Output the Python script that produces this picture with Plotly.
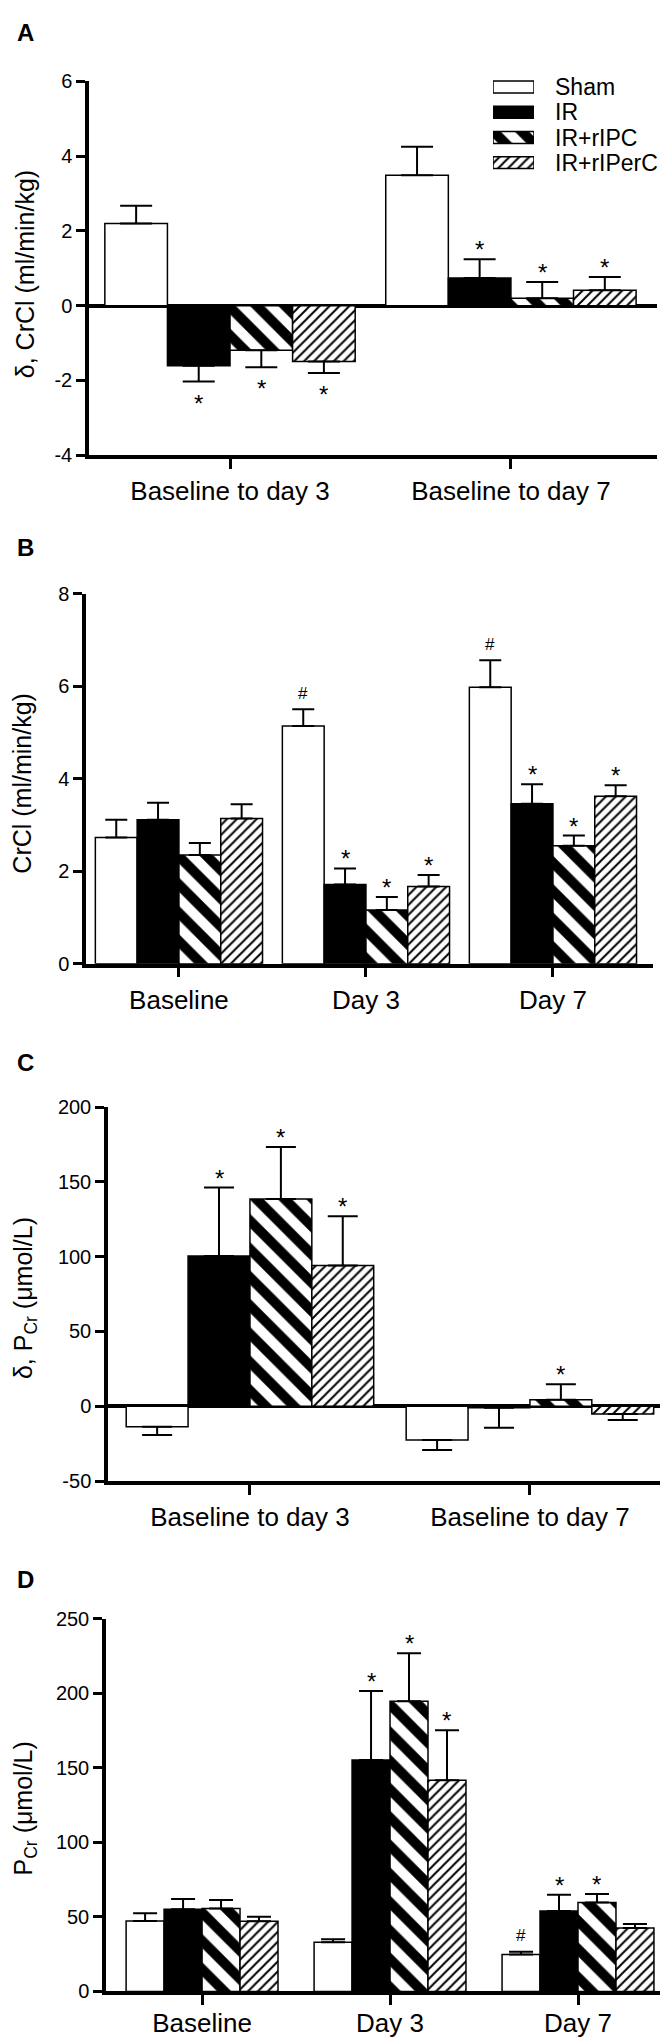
import plotly.graph_objects as go

FONT = "Liberation Sans, Arial, Helvetica, sans-serif"
W, H = 668, 2038

groups = ["Sham", "IR", "IR+rIPC", "IR+rIPerC"]

# Panel A: change in creatinine clearance
a_categories = ["Baseline to day 3", "Baseline to day 7"]
a_sham = [2.2, 3.49]
a_sham_err = [0.47, 0.76]
a_ir = [-1.61, 0.74]
a_ir_err = [0.42, 0.50]
a_ripc = [-1.19, 0.20]
a_ripc_err = [0.46, 0.43]
a_riperc = [-1.49, 0.41]
a_riperc_err = [0.31, 0.36]
a_sham_marks = ["", ""]
a_ir_marks = ["*", "*"]
a_ripc_marks = ["*", "*"]
a_riperc_marks = ["*", "*"]

# Panel B: creatinine clearance
b_categories = ["Baseline", "Day 3", "Day 7"]
b_sham = [2.73, 5.14, 5.98]
b_sham_err = [0.38, 0.36, 0.58]
b_ir = [3.11, 1.71, 3.46]
b_ir_err = [0.37, 0.35, 0.42]
b_ripc = [2.35, 1.16, 2.55]
b_ripc_err = [0.26, 0.28, 0.22]
b_riperc = [3.14, 1.67, 3.62]
b_riperc_err = [0.31, 0.25, 0.24]
b_sham_marks = ["", "#", "#"]
b_ir_marks = ["", "*", "*"]
b_ripc_marks = ["", "*", "*"]
b_riperc_marks = ["", "*", "*"]

# Panel C: change in plasma creatinine
c_categories = ["Baseline to day 3", "Baseline to day 7"]
c_sham = [-13.7, -22.5]
c_sham_err = [5.5, 6.7]
c_ir = [100.5, -1.0]
c_ir_err = [45.7, 13.4]
c_ripc = [138.5, 4.4]
c_ripc_err = [34.9, 10.4]
c_riperc = [94.1, -5.1]
c_riperc_err = [32.9, 4.0]
c_sham_marks = ["", ""]
c_ir_marks = ["*", ""]
c_ripc_marks = ["*", "*"]
c_riperc_marks = ["*", ""]

# Panel D: plasma creatinine
d_categories = ["Baseline", "Day 3", "Day 7"]
d_sham = [47.2, 33.0, 24.8]
d_sham_err = [5.3, 2.0, 1.8]
d_ir = [55.2, 155.1, 53.9]
d_ir_err = [6.8, 46.4, 11.0]
d_ripc = [55.6, 194.6, 59.6]
d_ripc_err = [5.8, 32.1, 5.8]
d_riperc = [47.0, 141.6, 42.6]
d_riperc_err = [3.1, 33.5, 2.6]
d_sham_marks = ["", "", "#"]
d_ir_marks = ["", "*", "*"]
d_ripc_marks = ["", "*", "*"]
d_riperc_marks = ["", "*", ""]


def px(x):
    return x / W


def py(y):
    return 1 - y / H


def group_marker(name):
    m = dict(color="white", line=dict(color="black", width=1.5))
    if name == "IR":
        m["color"] = "black"
    elif name == "IR+rIPC":
        m["pattern"] = dict(shape="\\", size=20, solidity=0.5, fgcolor="black",
                            bgcolor="white", fgopacity=1, fillmode="replace")
    elif name == "IR+rIPerC":
        m["pattern"] = dict(shape="/", size=7, solidity=0.28, fgcolor="black",
                            bgcolor="white", fgopacity=1, fillmode="replace")
    return m


fig = go.Figure()
annotations = []
layout_axes = {}


def add_panel(n, categories, series, bar_w, cap, xpix, ypix, x_range, y_range,
              y_ticks, y_title, title_xy, letter, letter_xy, zero, label_shift=0):
    xa = "x" if n == 1 else f"x{n}"
    ya = "y" if n == 1 else f"y{n}"
    pos = list(range(len(categories)))
    for i, (name, vals, errs, marks) in enumerate(series):
        offset = (i - 2) * bar_w
        plus = [e if v >= 0 else 0 for v, e in zip(vals, errs)]
        minus = [e if v < 0 else 0 for v, e in zip(vals, errs)]
        fig.add_trace(go.Bar(
            x=pos, y=vals, width=bar_w, offset=offset,
            marker=group_marker(name),
            error_y=dict(type="data", symmetric=False, array=plus, arrayminus=minus,
                         color="black", thickness=2, width=cap),
            xaxis=xa, yaxis=ya, name=name, showlegend=False,
        ))
        for j, (v, e, mk) in enumerate(zip(vals, errs, marks)):
            if not mk:
                continue
            up = v >= 0
            if mk == "*":
                size, shift = 24, (9.5 if up else -21.5)
            else:
                size, shift = 17, 16
            annotations.append(dict(
                x=j + offset + bar_w / 2, y=v + e if up else v - e,
                xref=xa, yref=ya, text=mk, showarrow=False,
                yshift=shift, yanchor="middle",
                font=dict(size=size, color="black", family=FONT),
            ))

    layout_axes["xaxis" if n == 1 else f"xaxis{n}"] = dict(
        domain=[px(xpix[0]), px(xpix[1])], range=x_range, anchor=ya,
        tickmode="array", tickvals=pos, ticktext=categories,
        ticks="outside", ticklen=10, tickwidth=3, tickcolor="black",
        ticklabelstandoff=label_shift,
        showline=True, linewidth=3.5, linecolor="black",
        showgrid=False, zeroline=False,
        tickfont=dict(size=26, color="black", family=FONT),
    )
    layout_axes["yaxis" if n == 1 else f"yaxis{n}"] = dict(
        domain=[py(ypix[1]), py(ypix[0])], range=y_range, anchor=xa,
        tickmode="array", tickvals=y_ticks, ticktext=[str(t) for t in y_ticks],
        ticks="outside", ticklen=9, tickwidth=3, tickcolor="black",
        showline=True, linewidth=3.5, linecolor="black",
        showgrid=False, zeroline=zero, zerolinewidth=3.5, zerolinecolor="black",
        tickfont=dict(size=20, color="black", family=FONT),
    )
    annotations.append(dict(
        x=px(title_xy[0]), y=py(title_xy[1]), xref="paper", yref="paper",
        text=y_title, textangle=-90, showarrow=False,
        xanchor="center", yanchor="middle",
        font=dict(size=25, color="black", family=FONT),
    ))
    annotations.append(dict(
        x=px(letter_xy[0]), y=py(letter_xy[1]), xref="paper", yref="paper",
        text=f"<b>{letter}</b>", showarrow=False,
        xanchor="center", yanchor="middle",
        font=dict(size=24, color="black", family=FONT),
    ))


add_panel(
    1, a_categories,
    [("Sham", a_sham, a_sham_err, a_sham_marks),
     ("IR", a_ir, a_ir_err, a_ir_marks),
     ("IR+rIPC", a_ripc, a_ripc_err, a_ripc_marks),
     ("IR+rIPerC", a_riperc, a_riperc_err, a_riperc_marks)],
    0.2228, 16, (81, 649), (63, 441), [-0.502, 1.520], [-4, 6],
    [-4, -2, 0, 2, 4, 6], "δ, CrCl (ml/min/kg)", (17, 258), "A", (17, 14), True,
)
add_panel(
    2, b_categories,
    [("Sham", b_sham, b_sham_err, b_sham_marks),
     ("IR", b_ir, b_ir_err, b_ir_marks),
     ("IR+rIPC", b_ripc, b_ripc_err, b_ripc_marks),
     ("IR+rIPerC", b_riperc, b_riperc_err, b_riperc_marks)],
    0.2235, 11, (78, 645), (581, 955), [-0.497, 2.535], [0, 8],
    [0, 2, 4, 6, 8], "CrCl (ml/min/kg)", (14, 773), "B", (17, 534), False,
)
add_panel(
    3, c_categories,
    [("Sham", c_sham, c_sham_err, c_sham_marks),
     ("IR", c_ir, c_ir_err, c_ir_marks),
     ("IR+rIPC", c_ripc, c_ripc_err, c_ripc_marks),
     ("IR+rIPerC", c_riperc, c_riperc_err, c_riperc_marks)],
    0.221, 15, (100, 665), (1100, 1478), [-0.507, 1.511], [-50, 200],
    [-50, 0, 50, 100, 150, 200], "δ, P<sub>Cr</sub> (μmol/L)", (17, 1293), "C", (17, 1055), True,
)
add_panel(
    4, d_categories,
    [("Sham", d_sham, d_sham_err, d_sham_marks),
     ("IR", d_ir, d_ir_err, d_ir_marks),
     ("IR+rIPC", d_ripc, d_ripc_err, d_ripc_marks),
     ("IR+rIPerC", d_riperc, d_riperc_err, d_riperc_marks)],
    0.202, 12, (98, 667), (1617, 1994), [-0.511, 2.516], [0, 250],
    [0, 50, 100, 150, 200, 250], "P<sub>Cr</sub> (μmol/L)", (17, 1809), "D", (17, 1578), False,
    label_shift=-4,
)

# Legend for panel A, drawn as a small bar axis so the swatches are wide boxes
for name in groups:
    fig.add_trace(go.Bar(
        x=[1], y=[name], orientation="h", width=0.47,
        marker=group_marker(name), xaxis="x5", yaxis="y5",
        showlegend=False, hoverinfo="skip",
    ))
layout_axes["xaxis5"] = dict(domain=[px(485), px(526)], range=[0, 1], anchor="y5",
                             visible=False, fixedrange=True)
layout_axes["yaxis5"] = dict(domain=[py(158), py(56)], anchor="x5", type="category",
                             categoryorder="array", categoryarray=groups,
                             tickmode="array", tickvals=groups, ticktext=groups,
                             autorange="reversed", side="right", showline=False,
                             showgrid=False, zeroline=False, ticks="",
                             ticklabelstandoff=20,
                             tickfont=dict(size=23, color="black", family=FONT))

fig.update_layout(
    width=W, height=H,
    margin=dict(l=0, r=0, t=0, b=0),
    paper_bgcolor="white", plot_bgcolor="white",
    barmode="overlay",
    showlegend=False,
    font=dict(family=FONT, color="black"),
    annotations=annotations,
    **layout_axes,
)

fig.write_html("out.html")
